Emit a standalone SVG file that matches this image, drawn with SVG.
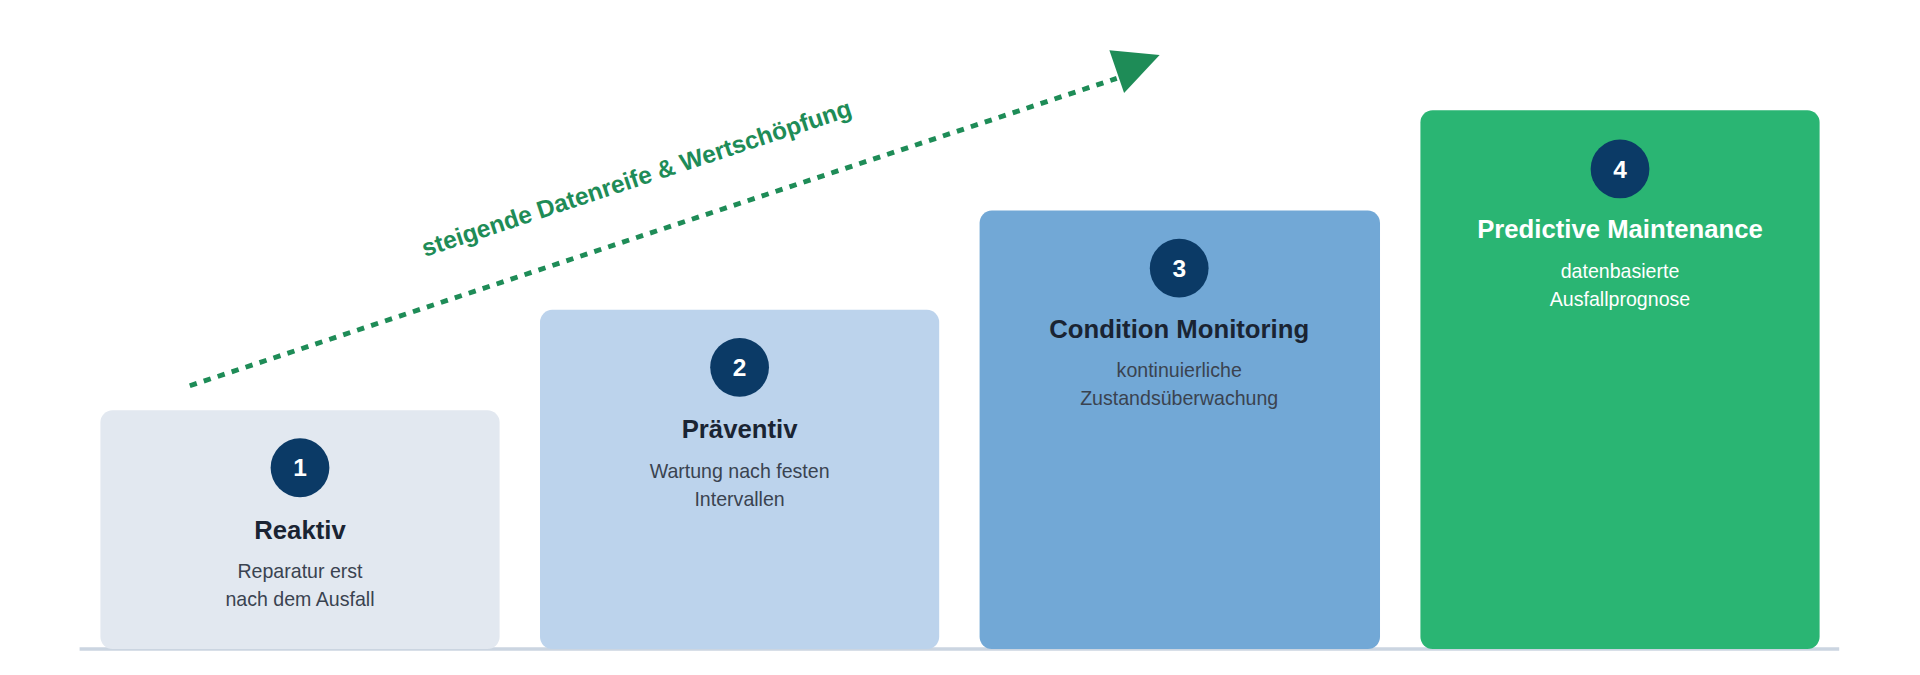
<svg xmlns="http://www.w3.org/2000/svg" width="1920" height="675" viewBox="0 0 1920 675">
<defs>
<style>
.t{font-family:"Liberation Sans",Arial,sans-serif;font-weight:bold;font-size:21px;fill:#1a2433;text-anchor:middle}
.d{font-family:"Liberation Sans",Arial,sans-serif;font-size:16px;fill:#3a4350;text-anchor:middle}
.n{font-family:"Liberation Sans",Arial,sans-serif;font-weight:bold;font-size:20px;fill:#fff;text-anchor:middle}
.w{fill:#fff}
</style>
<marker id="ah" markerWidth="10" markerHeight="10" refX="2" refY="5" orient="auto" markerUnits="userSpaceOnUse" viewBox="0 0 10 10"><path d="M0,0 L10,5 L0,10 Z" fill="#1e8c57"/></marker>
</defs>
<rect width="1920" height="675" fill="#fff"/>
<g transform="scale(1.2245)">
<g id="connectors">
<line x1="155" y1="315" x2="912" y2="64" stroke="#1e8c57" stroke-width="4" stroke-dasharray="6 6"/>
<polygon points="906,41 947,45 918,76" fill="#1e8c57"/>
<text transform="translate(522,152) rotate(-18.3)" font-family="Liberation Sans,Arial,sans-serif" font-weight="bold" font-size="20" fill="#1e8c57" text-anchor="middle">steigende Datenreife &amp; Wertschöpfung</text>
</g>
<line x1="65" y1="530" x2="1502" y2="530" stroke="#cbd5e1" stroke-width="3"/>
<g id="n1">
<rect x="82" y="335" width="326" height="195" rx="10" fill="#e2e8f0"/>
<circle cx="245" cy="382" r="24" fill="#0b3a66"/><text class="n" x="245" y="389">1</text>
<text class="t" x="245" y="440">Reaktiv</text>
<text class="d" x="245" y="472">Reparatur erst</text><text class="d" x="245" y="495">nach dem Ausfall</text>
</g>
<g id="n2">
<rect x="441" y="253" width="326" height="277" rx="10" fill="#bcd3ec"/>
<circle cx="604" cy="300" r="24" fill="#0b3a66"/><text class="n" x="604" y="307">2</text>
<text class="t" x="604" y="358">Präventiv</text>
<text class="d" x="604" y="390">Wartung nach festen</text><text class="d" x="604" y="413">Intervallen</text>
</g>
<g id="n3">
<rect x="800" y="172" width="327" height="358" rx="10" fill="#72a8d6"/>
<circle cx="963" cy="219" r="24" fill="#0b3a66"/><text class="n" x="963" y="226">3</text>
<text class="t" x="963" y="276">Condition Monitoring</text>
<text class="d" x="963" y="308">kontinuierliche</text><text class="d" x="963" y="331">Zustandsüberwachung</text>
</g>
<g id="n4">
<rect x="1160" y="90" width="326" height="440" rx="10" fill="#2ab573"/>
<circle cx="1323" cy="138" r="24" fill="#0b3a66"/><text class="n" x="1323" y="145">4</text>
<text class="t w" x="1323" y="194">Predictive Maintenance</text>
<text class="d w" x="1323" y="227">datenbasierte</text><text class="d w" x="1323" y="250">Ausfallprognose</text>
</g>
</g>
</svg>
